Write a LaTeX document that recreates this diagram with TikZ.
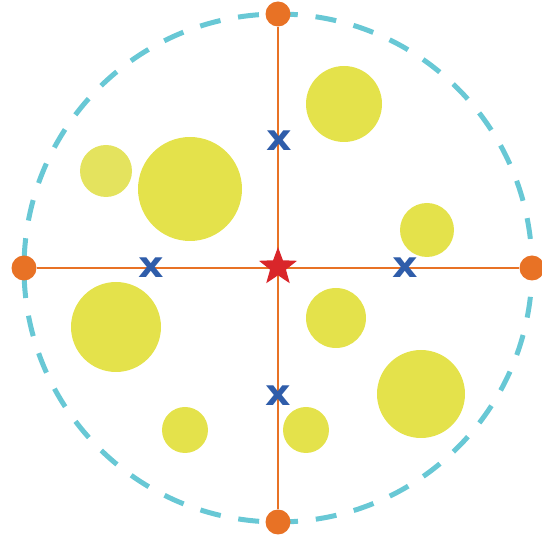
\documentclass[tikz,border=0pt]{standalone}
\usepackage{fontspec}
\usepackage{tikz}
\usetikzlibrary{shapes.geometric, positioning, calc}
\newfontfamily\markfont{DejaVu Sans}
\definecolor{rim}{HTML}{68C8D5}
\definecolor{axis}{HTML}{E87225}
\definecolor{blob}{HTML}{E4E24B}
\definecolor{blobpale}{HTML}{E4E35E}
\definecolor{cross}{HTML}{2F5DAA}
\definecolor{centre}{HTML}{D9262A}

\begin{document}
\begin{tikzpicture}[x=1pt, y=-1pt,
    pole/.style={circle, fill=axis, inner sep=0pt, minimum size=25pt},
    guess/.style={cross, font=\markfont\fontsize{36}{36}\bfseries, inner sep=0pt}]
    \useasboundingbox (0,0) rectangle (542,537);
    \draw[rim, line width=5pt, dash pattern=on 21pt off 17.9pt, dash phase=10pt] (278,268) circle (254);
    \foreach \x/\y/\r in {344/104/38, 190/189/52, 427/230/27, 116/327/45,
                          336/318/30, 421/394/44, 185/430/23, 306/430/23}
        \fill[blob] (\x,\y) circle (\r);
    \fill[blobpale] (106,171) circle (26);
    \node[pole] (top) at (278,14) {};
    \node[pole] (bottom) at (278,522) {};
    \node[pole] (left) at (24,268) {};
    \node[pole] (right) at (532,268) {};
    \draw[axis, line width=1.8pt] (left) -- (right);
    \draw[axis, line width=1.8pt] (top) -- (bottom);
    \node[star, star points=5, star point ratio=2.4, fill=centre, minimum size=40pt, inner sep=0pt] (origin) at (278,267) {};
    \foreach \x/\y/\n in {279/141/n, 151/268/w, 405/268/e, 278/396/s}
        \node[guess, xscale=1.1] (guess-\n) at (\x,\y) {x};
\end{tikzpicture}
\end{document}
